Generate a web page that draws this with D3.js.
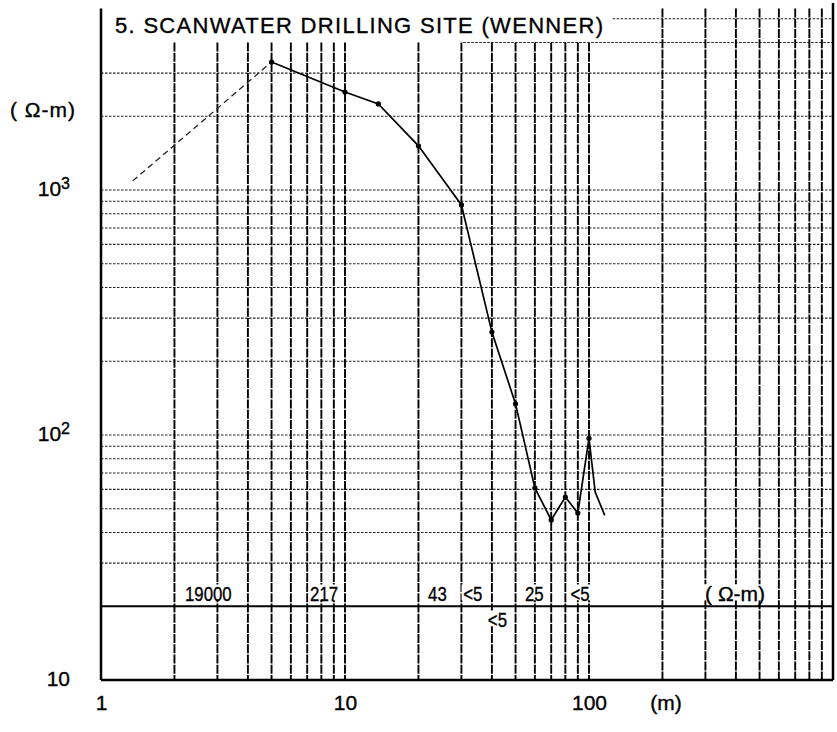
<!DOCTYPE html>
<html>
<head>
	<meta charset="utf-8">
	<script src="https://cdnjs.cloudflare.com/ajax/libs/d3/7.8.5/d3.min.js"></script>
	<style>
		body { margin: 0; background: #fff; }
		text { font-family: "Liberation Sans", Arial, sans-serif; fill: #000; stroke: #000; stroke-width: 0.35px; }
	</style>
</head>
<body>
	<svg width="837" height="732"></svg>
	<script>
		//sounding data: electrode spacing (m) and apparent resistivity (ohm-m)
		let spacing = [1.35, 5, 10, 13.7, 20, 30, 40, 50, 60, 70, 80, 90, 100, 106, 116];
		let rhoA = [1090, 3330, 2510, 2245, 1515, 869, 263, 134, 60.8, 45, 55.8, 48, 97, 58.5, 47];
		//first segment is extrapolated (dashed)
		let dashedUntil = 1;

		//layer resistivities written along the 20 ohm-m line
		let layerText = ["19000", "217", "43", "<5", "25", "<5"];
		let layerAt = [2.21, 7.19, 21.9, 30.5, 54.6, 83.9];
		let lowerText = ["<5"];
		let lowerAt = [38.5];
		let layerLine = 20;
		let unitAt = 299;

		//axis labels
		let xLabels = [1, 10, 100];
		let yLabels = [10, 100, 1000];

		let svg = d3.select("svg"),
			left = 101, right = 833, bottom = 680;

		//log scales
		let x = d3.scaleLog().domain([1, 1000]).range([left, right]),
			y = d3.scaleLog().domain([10, 1000]).range([bottom, 190]);

		let g = svg.append("g");

		//horizontal grid (dotted)
		let hTicks = y.copy().domain([10, 10000]).ticks().filter(function(d) { return d > 20 && d <= 5000; });
		g.append("g")
			.selectAll("line")
			.data(hTicks)
			.enter()
			.append("line")
			.attr("x1", function(d) { return d == 5000 ? x(125) : d == 4000 ? x(30.5) : left; })
			.attr("x2", right)
			.attr("y1", function(d) { return y(d); })
			.attr("y2", function(d) { return y(d); })
			.attr("stroke", "#222")
			.attr("stroke-width", 1.1)
			.attr("stroke-dasharray", "2.5,1.5");

		//vertical grid (dashed, heavier)
		let vTicks = x.ticks().filter(function(d) { return d > 1 && d < 1000; });
		g.append("g")
			.selectAll("line")
			.data(vTicks)
			.enter()
			.append("line")
			.attr("x1", function(d) { return x(d); })
			.attr("x2", function(d) { return x(d); })
			.attr("y1", function(d) { return d <= 100 ? y(4000) : y(5500); })
			.attr("y2", bottom)
			.attr("stroke", "#000")
			.attr("stroke-width", 1.9)
			.attr("stroke-dasharray", "9,1.2");

		//layer annotation texts (condensed) with white backing
		let ann = svg.append("g");
		function label(txt, at, base, sx) {
			let t = ann.append("text")
				.attr("transform", "translate(" + x(at) + "," + base + ") scale(" + sx + ",1)")
				.style("font-size", "21px")
				.text(txt);
			let b = t.node().getBBox();
			ann.insert("rect", "text")
				.attr("x", x(at) + (b.x - 2) * sx)
				.attr("y", base + b.y + 2)
				.attr("width", (b.width + 4) * sx)
				.attr("height", -b.y - 3)
				.attr("fill", "#fff");
		}
		layerText.forEach(function(d, i) { label(d, layerAt[i], y(layerLine) - 5, 0.8); });
		lowerText.forEach(function(d, i) { label(d, lowerAt[i], y(layerLine) + 21, 0.8); });
		label("( Ω-m)", unitAt, y(layerLine) - 5, 1);

		//solid 20 ohm-m line
		svg.append("line")
			.attr("x1", left)
			.attr("x2", right)
			.attr("y1", y(layerLine))
			.attr("y2", y(layerLine))
			.attr("stroke", "#000")
			.attr("stroke-width", 2);

		//frame: left axis, bottom axis, right edge
		svg.append("line").attr("x1", left).attr("x2", left).attr("y1", y(5500)).attr("y2", bottom)
			.attr("stroke", "#000").attr("stroke-width", 2.5);
		svg.append("line").attr("x1", left).attr("x2", right).attr("y1", bottom).attr("y2", bottom)
			.attr("stroke", "#000").attr("stroke-width", 2.5);
		svg.append("line").attr("x1", right).attr("x2", right).attr("y1", y(5800)).attr("y2", bottom)
			.attr("stroke", "#000").attr("stroke-width", 2.5);

		//x axis labels
		let xAxis = svg.append("g")
			.attr("transform", "translate(0," + bottom + ")")
			.call(d3.axisBottom(x).tickValues(xLabels).tickSize(0).tickPadding(15).tickFormat(d3.format("d")));
		xAxis.select(".domain").remove();
		xAxis.selectAll("text")
			.style("font-family", "'Liberation Sans', Arial, sans-serif")
			.style("font-size", "21px")
			.attr("fill", "#000");

		//y axis labels as powers of ten
		let yAxis = svg.append("g")
			.attr("transform", "translate(" + (left - 31) + ",0)")
			.call(d3.axisLeft(y).tickValues(yLabels).tickSize(0).tickPadding(0));
		yAxis.select(".domain").remove();
		yAxis.selectAll("text")
			.style("font-family", "'Liberation Sans', Arial, sans-serif")
			.style("font-size", "21px")
			.attr("fill", "#000")
			.attr("dy", "0.25em")
			.each(function(d) {
				let e = Math.round(Math.log10(d)),
					t = d3.select(this).text(null);
				t.append("tspan").text("10");
				if (e > 1) t.append("tspan").attr("dy", "-0.4em").style("font-size", "16px").text(e);
			});

		//unit labels
		svg.append("text")
			.attr("x", 10)
			.attr("y", 117)
			.style("font-size", "21px")
			.style("letter-spacing", "1px")
			.text("( Ω-m)");
		svg.append("text")
			.attr("x", 666)
			.attr("y", 710)
			.attr("text-anchor", "middle")
			.style("font-size", "21px")
			.text("(m)");

		//title
		svg.append("text")
			.attr("x", 115)
			.attr("y", 33)
			.attr("textLength", 488)
			.attr("lengthAdjust", "spacing")
			.style("font-size", "22px")
			.text("5.  SCANWATER  DRILLING  SITE  (WENNER)");

		//sounding curve
		let pts = spacing.map(function(d, i) { return [d, rhoA[i]]; });
		let line = d3.line()
			.x(function(d) { return x(d[0]); })
			.y(function(d) { return y(d[1]); });

		svg.append("path")
			.datum(pts.slice(0, dashedUntil + 1))
			.attr("d", line)
			.attr("fill", "none")
			.attr("stroke", "#222")
			.attr("stroke-width", 1.3)
			.attr("stroke-dasharray", "6,4");

		svg.append("path")
			.datum(pts.slice(dashedUntil))
			.attr("d", line)
			.attr("fill", "none")
			.attr("stroke", "#000")
			.attr("stroke-width", 1.7);

		svg.append("g")
			.selectAll("circle")
			.data(pts.slice(dashedUntil, 13))
			.enter()
			.append("circle")
			.attr("cx", function(d) { return x(d[0]); })
			.attr("cy", function(d) { return y(d[1]); })
			.attr("r", 2.6)
			.attr("fill", "#000");
	</script>
</body>
</html>
